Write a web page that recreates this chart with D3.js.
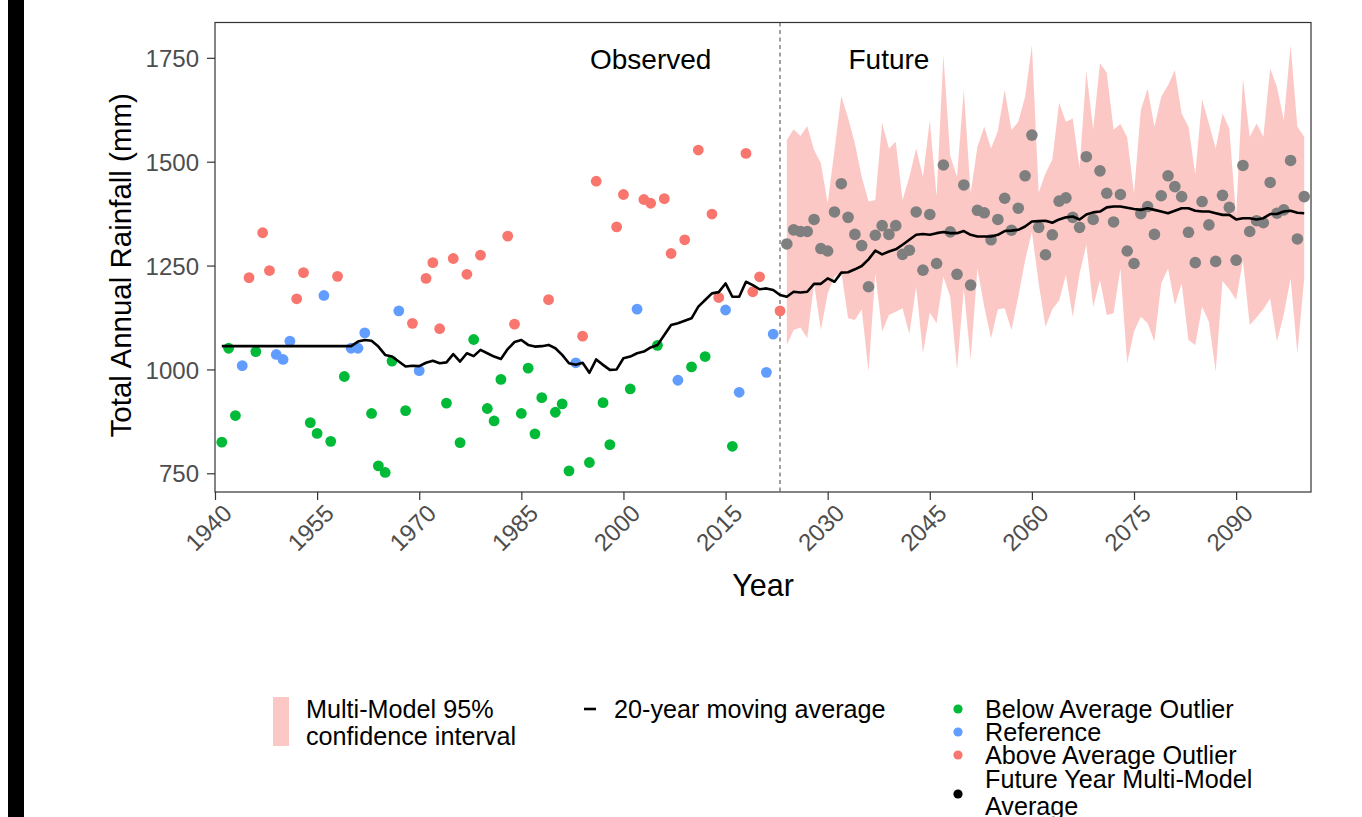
<!DOCTYPE html>
<html>
<head>
<meta charset="utf-8">
<script src="https://cdn.jsdelivr.net/npm/d3@7"></script>
<style>
  body { margin: 0; background: #fff; }
  svg { display: block; font-family: "Liberation Sans", Arial, Helvetica, sans-serif; }
</style>
</head>
<body>
<svg id="chart" width="1362" height="817"></svg>
<script>
// ---------------- DATA ----------------
const observedStartYear = 1941;
// Observed total annual rainfall (mm), 1941..2023
const observedRain = [
  825, 1051, 889, 1009, 1221, 1043, 1329, 1238, 1036, 1024,
  1068, 1170, 1233, 872, 846, 1178, 827, 1224, 983, 1051,
  1051, 1088, 894, 768, 752, 1020, 1141, 901, 1111, 997,
  1219, 1257, 1098, 919, 1267, 824, 1229, 1072, 1275, 906,
  876, 976, 1321, 1109, 894, 1003, 845, 932, 1168, 897,
  917, 756, 1016, 1080, 776, 1453, 920, 819, 1343, 1421,
  953, 1145, 1409, 1400, 1058, 1411, 1279, 974, 1312, 1006,
  1528, 1031, 1374, 1173, 1143, 815, 945, 1520, 1187, 1223,
  993, 1085, 1141
];
// Category of each observed year: B = below average outlier, R = reference, A = above average outlier
const observedClass = [
  "B","B","B","R","A","B","A","A","R","R",
  "R","A","A","B","B","R","B","A","B","R",
  "R","R","B","B","B","B","R","B","A","R",
  "A","A","A","B","A","B","A","B","A","B",
  "B","B","A","A","B","B","B","B","A","B",
  "B","B","R","A","B","A","B","B","A","A",
  "B","R","A","A","B","A","A","R","A","B",
  "A","B","A","A","R","B","R","A","A","A",
  "R","R","A"
];
// 20-year moving average, observed period 1941..2023
const movingAvgObserved = [
  1056, 1056, 1056, 1056, 1056, 1056, 1056, 1056, 1056, 1056,
  1056, 1056, 1056, 1056, 1056, 1056, 1056, 1056, 1056, 1056,
  1067, 1071, 1069, 1055, 1035, 1031, 1019, 1007, 1009, 1008,
  1016, 1021, 1015, 1017, 1037, 1019, 1039, 1032, 1047, 1039,
  1031, 1025, 1049, 1066, 1071, 1059, 1055, 1056, 1059, 1051,
  1035, 1015, 1011, 1016, 992, 1024, 1011, 999, 1000, 1027,
  1031, 1039, 1043, 1053, 1059, 1083, 1107, 1111, 1117, 1123,
  1151, 1167, 1183, 1186, 1207, 1175, 1175, 1211, 1203, 1193,
  1195, 1191, 1179
];

const futureStartYear = 2024;
// Future multi-model average rainfall (mm), 2024..2100
const futureRain = [
  1302, 1336, 1332, 1332, 1361, 1291, 1285, 1379, 1447, 1366,
  1325, 1298, 1199, 1323, 1346, 1325, 1346, 1277, 1287, 1379,
  1239, 1373, 1255, 1492, 1331, 1229, 1444, 1203, 1383, 1377,
  1312, 1361, 1412, 1335, 1388, 1466, 1564, 1342, 1276, 1324,
  1405, 1413, 1366, 1342, 1512, 1361, 1478, 1424, 1355, 1421,
  1285, 1255, 1375, 1392, 1325, 1418, 1466, 1440, 1416, 1330,
  1257, 1404, 1348, 1260, 1419, 1390, 1263, 1491, 1332, 1358,
  1353, 1450, 1376, 1384, 1503, 1314, 1416
];
// Multi-model 95% confidence interval, 2024..2100
const futureUpper = [
  1552, 1578, 1562, 1586, 1528, 1496, 1400, 1528, 1658, 1605,
  1544, 1464, 1404, 1408, 1594, 1532, 1548, 1408, 1464, 1532,
  1464, 1600, 1416, 1757, 1514, 1464, 1674, 1424, 1536, 1584,
  1532, 1574, 1673, 1576, 1596, 1656, 1781, 1426, 1472, 1505,
  1642, 1596, 1604, 1484, 1717, 1578, 1737, 1714, 1577, 1591,
  1559, 1424, 1624, 1676, 1584, 1656, 1684, 1720, 1616, 1584,
  1470, 1650, 1592, 1532, 1616, 1580, 1368, 1700, 1560, 1592,
  1560, 1724, 1680, 1600, 1781, 1584, 1560
];
const futureLower = [
  1059, 1095, 1101, 1075, 1207, 1095, 1183, 1223, 1235, 1123,
  1119, 1145, 995, 1231, 1091, 1131, 1139, 1147, 1085, 1199,
  1039, 1137, 1111, 1223, 1175, 999, 1195, 1023, 1243, 1151,
  1075, 1145, 1147, 1095, 1175, 1263, 1331, 1207, 1103, 1145,
  1166, 1227, 1127, 1230, 1300, 1150, 1215, 1131, 1135, 1243,
  1015, 1091, 1127, 1111, 1067, 1207, 1243, 1155, 1207, 1071,
  1059, 1151, 1115, 995, 1213, 1193, 1167, 1263, 1107, 1125,
  1145, 1171, 1067, 1133, 1219, 1039, 1219
];
// 20-year moving average, future period 2024..2100
const movingAvgFuture = [
  1175, 1187, 1185, 1187, 1206, 1206, 1219, 1211, 1233, 1234,
  1241, 1249, 1265, 1286, 1277, 1284, 1289, 1300, 1312, 1324,
  1326, 1324, 1328, 1331, 1328, 1328, 1333, 1324, 1320, 1320,
  1320, 1324, 1333, 1334, 1336, 1344, 1356, 1357, 1358, 1353,
  1361, 1366, 1368, 1361, 1373, 1378, 1380, 1390, 1392, 1392,
  1389, 1386, 1384, 1388, 1384, 1380, 1376, 1382, 1388, 1388,
  1382, 1380, 1380, 1376, 1372, 1372, 1361, 1364, 1364, 1361,
  1364, 1374, 1374, 1380, 1382, 1377, 1376
];

const dividerYear = 2023;
const periodLabels = ["Observed", "Future"];
const periodLabelYears = [2004, 2039];
const periodLabelValue = 1750;

const xTicks = [1940, 1955, 1970, 1985, 2000, 2015, 2030, 2045, 2060, 2075, 2090];
const yTicks = [750, 1000, 1250, 1500, 1750];
const xDomain = [1940, 2101];
const yDomain = [705, 1835];

const classNames = ["B", "R", "A"];
const classColors = ["#00BA38", "#619CFF", "#F8766D"];
const futureDotColor = "#7F7F7F";
const bandColor = "#F8766D";

const legendBandLabel = ["Multi-Model 95%", "confidence interval"];
const legendLineLabel = "20-year moving average";
const legendPointLabels = [["Below Average Outlier"], ["Reference"], ["Above Average Outlier"], ["Future Year Multi-Model", "Average"]];
const legendPointColors = ["#00BA38", "#619CFF", "#F8766D", "#000000"];

// ---------------- BUILD ----------------
const observed = observedRain.map((v, i) => ({ year: observedStartYear + i, value: v, cls: observedClass[i], ma: movingAvgObserved[i] }));
const future = futureRain.map((v, i) => ({ year: futureStartYear + i, value: v, lo: futureLower[i], hi: futureUpper[i], ma: movingAvgFuture[i] }));
const maSeries = observed.map(d => ({ year: d.year, ma: d.ma })).concat(future.map(d => ({ year: d.year, ma: d.ma })));

const svg = d3.select("#chart");
const W = 1362, H = 817;
const panel = { left: 215, right: 1311, top: 22.5, bottom: 492 };

svg.append("rect").attr("width", W).attr("height", H).attr("fill", "#fff");
// black strip at left edge of the original picture
svg.append("rect").attr("x", 8).attr("y", 0).attr("width", 16).attr("height", H).attr("fill", "#000");

const x = d3.scaleLinear().domain(xDomain).range([panel.left, panel.right]);
const y = d3.scaleLinear().domain(yDomain).range([panel.bottom, panel.top]);
const color = d3.scaleOrdinal().domain(classNames).range(classColors);

const plot = svg.append("g");
plot.append("clipPath").attr("id", "clip")
  .append("rect").attr("x", panel.left).attr("y", panel.top)
  .attr("width", panel.right - panel.left).attr("height", panel.bottom - panel.top);
const inner = plot.append("g").attr("clip-path", "url(#clip)");

// confidence band
inner.append("path")
  .datum(future)
  .attr("fill", bandColor)
  .attr("fill-opacity", 0.4)
  .attr("d", d3.area().x(d => x(d.year)).y0(d => y(d.lo)).y1(d => y(d.hi)));

// divider
inner.append("line")
  .attr("x1", x(dividerYear)).attr("x2", x(dividerYear))
  .attr("y1", panel.top).attr("y2", panel.bottom)
  .attr("stroke", "#555").attr("stroke-width", 1.1).attr("stroke-dasharray", "4,3.5");

// observed points
inner.selectAll("circle.obs").data(observed).join("circle")
  .attr("class", "obs")
  .attr("cx", d => x(d.year)).attr("cy", d => y(d.value)).attr("r", 5.4)
  .attr("fill", d => color(d.cls));

// future points
inner.selectAll("circle.fut").data(future).join("circle")
  .attr("class", "fut")
  .attr("cx", d => x(d.year)).attr("cy", d => y(d.value)).attr("r", 5.8)
  .attr("fill", futureDotColor);

// moving average line
inner.append("path")
  .datum(maSeries)
  .attr("fill", "none").attr("stroke", "#000").attr("stroke-width", 2.6)
  .attr("stroke-linejoin", "round")
  .attr("d", d3.line().x(d => x(d.year)).y(d => y(d.ma)));

// period labels
plot.selectAll("text.period").data(periodLabels).join("text")
  .attr("class", "period")
  .attr("x", (d, i) => x(periodLabelYears[i]))
  .attr("y", y(periodLabelValue))
  .attr("dy", "0.4em")
  .attr("text-anchor", "middle")
  .attr("font-size", 28)
  .attr("fill", "#000")
  .text(d => d);

// panel border
svg.append("rect")
  .attr("x", panel.left).attr("y", panel.top)
  .attr("width", panel.right - panel.left).attr("height", panel.bottom - panel.top)
  .attr("fill", "none").attr("stroke", "#333").attr("stroke-width", 1.2);

// axes
const yAxis = svg.append("g").attr("transform", `translate(${panel.left},0)`)
  .call(d3.axisLeft(y).tickValues(yTicks).tickSize(8).tickPadding(8).tickFormat(d3.format("d")));
const xAxis = svg.append("g").attr("transform", `translate(0,${panel.bottom})`)
  .call(d3.axisBottom(x).tickValues(xTicks).tickSize(8).tickPadding(4).tickFormat(d3.format("d")));
[yAxis, xAxis].forEach(a => {
  a.select(".domain").remove();
  a.selectAll(".tick line").attr("stroke", "#333").attr("stroke-width", 1.2);
  a.selectAll(".tick text").attr("fill", "#4d4d4d").attr("font-size", 24)
    .attr("font-family", "Liberation Sans, Arial, Helvetica, sans-serif");
});
yAxis.selectAll(".tick text").attr("dy", "0.36em");
xAxis.selectAll(".tick text")
  .attr("text-anchor", "end")
  .attr("transform", "translate(0,5) rotate(-45)")
  .attr("x", 0).attr("y", 8).attr("dy", "0.72em");

// axis titles
svg.append("text")
  .attr("transform", `translate(120,${(panel.top + panel.bottom) / 2 + 8}) rotate(-90)`)
  .attr("text-anchor", "middle").attr("dy", "0.36em")
  .attr("font-size", 29.5).attr("fill", "#000")
  .text("Total Annual Rainfall (mm)");
svg.append("text")
  .attr("x", (panel.left + panel.right) / 2).attr("y", 585)
  .attr("text-anchor", "middle").attr("dy", "0.36em")
  .attr("font-size", 30.5).attr("fill", "#000")
  .text("Year");

// ---------------- LEGEND ----------------
const lg = svg.append("g").attr("font-size", 25.2).attr("fill", "#000");
// band key
lg.append("rect").attr("x", 273).attr("y", 697).attr("width", 16).attr("height", 49)
  .attr("fill", bandColor).attr("fill-opacity", 0.4);
legendBandLabel.forEach((t, i) => {
  lg.append("text").attr("x", 306).attr("y", 709 + i * 27).attr("dy", "0.36em").text(t);
});
// line key
lg.append("line").attr("x1", 584).attr("x2", 596).attr("y1", 709).attr("y2", 709)
  .attr("stroke", "#000").attr("stroke-width", 2.6);
lg.append("text").attr("x", 614).attr("y", 709).attr("dy", "0.36em").text(legendLineLabel);
// point keys
const keyCenters = [709, 732, 755, 794];
legendPointLabels.forEach((lines, i) => {
  lg.append("circle").attr("cx", 958).attr("cy", keyCenters[i]).attr("r", 4.6).attr("fill", legendPointColors[i]);
  const n = lines.length;
  lines.forEach((t, j) => {
    lg.append("text").attr("x", 985)
      .attr("y", keyCenters[i] + (j - (n - 1) / 2) * 27 - (n > 1 ? 1.5 : 0))
      .attr("dy", "0.36em").text(t);
  });
});
</script>
</body>
</html>
